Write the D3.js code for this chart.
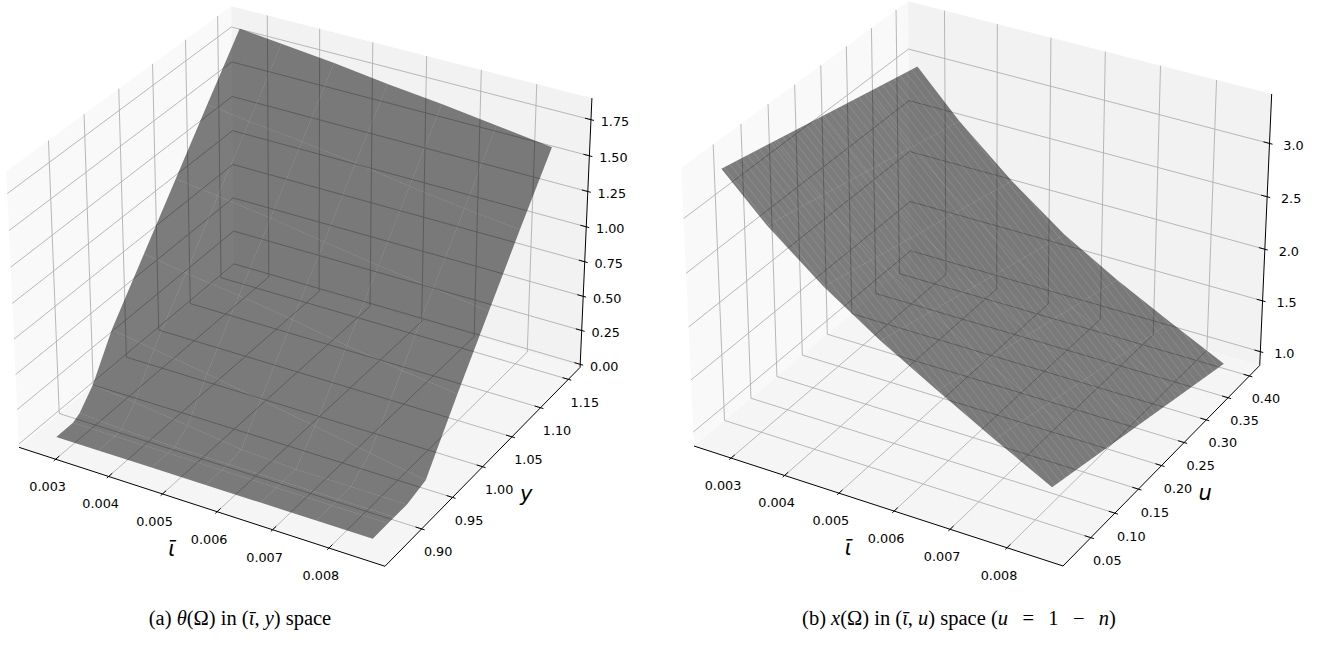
<!DOCTYPE html>
<html>
<head>
<meta charset="utf-8">
<script src="https://cdn.jsdelivr.net/npm/d3@7"></script>
<style>
body { margin: 0; background: #fff; }
svg text { font-family: "DejaVu Sans", sans-serif; fill: #000; }
.cap { font-family: "Liberation Serif", serif; }
</style>
</head>
<body>
<svg id="chart" width="1321" height="657"></svg>
<script>
// surface grid, shared iota axis
var iotaGrid = [0.0027, 0.0035, 0.0045, 0.0055, 0.0065, 0.0075, 0.0085];

// (a) theta over (iota, y), one row per value of yGridA
var yGridA = [0.866, 0.89, 0.90, 0.92, 0.95, 1.00, 1.05, 1.10, 1.152];
var thetaA = [
    [0.00, 0.00, 0.00, 0.00, 0.00, 0.00, 0.00],
    [0.00, 0.00, 0.00, 0.00, 0.00, 0.00, 0.00],
    [0.03, 0.01, 0.00, 0.00, 0.00, 0.00, 0.00],
    [0.15, 0.12, 0.07, 0.02, 0.00, 0.00, 0.00],
    [0.43, 0.38, 0.32, 0.25, 0.18, 0.11, 0.04],
    [0.78, 0.73, 0.68, 0.62, 0.55, 0.49, 0.44],
    [1.13, 1.09, 1.04, 0.98, 0.92, 0.87, 0.82],
    [1.48, 1.44, 1.40, 1.35, 1.29, 1.24, 1.20],
    [1.84, 1.81, 1.77, 1.72, 1.68, 1.63, 1.58]
];

// (b) x over (iota, u), one row per value of uGridB
var uGridB = [0.025, 0.12, 0.21, 0.30, 0.40];
var xOmegaB = [
    [3.386, 2.990, 2.580, 2.240, 1.940, 1.650, 1.373],
    [3.281, 2.879, 2.461, 2.111, 1.811, 1.527, 1.256],
    [3.181, 2.773, 2.348, 1.989, 1.689, 1.411, 1.144],
    [3.081, 2.667, 2.235, 1.866, 1.566, 1.294, 1.033],
    [2.970, 2.550, 2.110, 1.730, 1.430, 1.165, 0.909]
];

// ticks
var iotaTicks = [0.003, 0.004, 0.005, 0.006, 0.007, 0.008];
var iotaTickLabels = ["0.003", "0.004", "0.005", "0.006", "0.007", "0.008"];
var yTicksA = [0.90, 0.95, 1.00, 1.05, 1.10, 1.15];
var yTickLabelsA = ["0.90", "0.95", "1.00", "1.05", "1.10", "1.15"];
var thetaTicks = [0, 0.25, 0.5, 0.75, 1.0, 1.25, 1.5, 1.75];
var thetaTickLabels = ["0.00", "0.25", "0.50", "0.75", "1.00", "1.25", "1.50", "1.75"];
var uTicksB = [0.05, 0.10, 0.15, 0.20, 0.25, 0.30, 0.35, 0.40];
var uTickLabelsB = ["0.05", "0.10", "0.15", "0.20", "0.25", "0.30", "0.35", "0.40"];
var xTicksB = [1.0, 1.5, 2.0, 2.5, 3.0];
var xTickLabelsB = ["1.0", "1.5", "2.0", "2.5", "3.0"];

var svg = d3.select("#chart");

// faint seam texture seen on the right hand surface
svg.append("defs").append("pattern")
    .attr("id", "seams")
    .attr("patternUnits", "userSpaceOnUse")
    .attr("width", 40).attr("height", 6.5)
    .attr("patternTransform", "rotate(52)")
    .append("line")
    .attr("x1", 0).attr("y1", 0.5).attr("x2", 40).attr("y2", 0.5)
    .attr("stroke", "#fff").attr("stroke-opacity", 0.13).attr("stroke-width", 0.8);

// matplotlib default view: elev 30, azim -60, box aspect 4:4:3
var U = [Math.sqrt(3) / 2, 0.5, 0];
var V = [-0.25, Math.sqrt(3) / 4, Math.sqrt(3) / 2];
var W = [Math.sqrt(3) / 4, -0.75, 0.5];
var BOX = [8 / 7, 8 / 7, 6 / 7];

var dot = function (a, b) { return a[0] * b[0] + a[1] * b[1] + a[2] * b[2]; };

var panels = [
    {
        cx: 304.5, cy: 273.3, s: 3670,
        xlim: [0.0023, 0.00898], ylim: [0.8424, 1.1714], zlim: [-0.023, 1.898],
        yTicks: yTicksA, yLabels: yTickLabelsA, zTicks: thetaTicks, zLabels: thetaTickLabels,
        ys: yGridA, zs: thetaA, yName: "y", hatch: false
    },
    {
        cx: 981.9, cy: 270.6, s: 3700,
        xlim: [0.0023, 0.00897], ylim: [-0.0065, 0.4245], zlim: [0.863, 3.456],
        yTicks: uTicksB, yLabels: uTickLabelsB, zTicks: xTicksB, zLabels: xTickLabelsB,
        ys: uGridB, zs: xOmegaB, yName: "u", hatch: true
    }
];

var setup = function (p) {
    p.sx = d3.scaleLinear().domain(p.xlim).range([-BOX[0] / 2, BOX[0] / 2]);
    p.sy = d3.scaleLinear().domain(p.ylim).range([-BOX[1] / 2, BOX[1] / 2]);
    p.sz = d3.scaleLinear().domain(p.zlim).range([-BOX[2] / 2, BOX[2] / 2]);
    p.depth = function (x, y, z) {
        return 10 - dot(W, [p.sx(x), p.sy(y), p.sz(z)]);
    };
    p.proj = function (x, y, z) {
        var q = [p.sx(x), p.sy(y), p.sz(z)];
        var den = 10 - dot(W, q);
        return [p.cx + p.s * dot(U, q) / den, p.cy - p.s * dot(V, q) / den];
    };
};

var line = d3.line();

var drawPanel = function (p) {
    var g = svg.append("g");
    var pr = p.proj;
    var X0 = p.xlim[0], X1 = p.xlim[1], Y0 = p.ylim[0], Y1 = p.ylim[1], Z0 = p.zlim[0], Z1 = p.zlim[1];

    // panes
    var panes = [
        { c: "#f9f9f9", pts: [pr(X0, Y0, Z0), pr(X0, Y1, Z0), pr(X0, Y1, Z1), pr(X0, Y0, Z1)] },
        { c: "#f2f2f2", pts: [pr(X0, Y1, Z0), pr(X1, Y1, Z0), pr(X1, Y1, Z1), pr(X0, Y1, Z1)] },
        { c: "#f5f5f5", pts: [pr(X0, Y0, Z0), pr(X1, Y0, Z0), pr(X1, Y1, Z0), pr(X0, Y1, Z0)] }
    ];
    g.selectAll(".pane").data(panes).enter().append("path")
        .attr("class", "pane")
        .attr("d", function (d) { return line(d.pts) + "Z"; })
        .attr("fill", function (d) { return d.c; });

    // grid lines on the panes
    var grid = [];
    iotaTicks.forEach(function (t) { grid.push([pr(t, Y0, Z0), pr(t, Y1, Z0), pr(t, Y1, Z1)]); });
    p.yTicks.forEach(function (t) { grid.push([pr(X1, t, Z0), pr(X0, t, Z0), pr(X0, t, Z1)]); });
    p.zTicks.forEach(function (t) { grid.push([pr(X0, Y0, t), pr(X0, Y1, t), pr(X1, Y1, t)]); });
    g.selectAll(".grid").data(grid).enter().append("path")
        .attr("class", "grid")
        .attr("d", function (d) { return line(d); })
        .attr("fill", "none")
        .attr("stroke", "#b0b0b0")
        .attr("stroke-width", 0.9);

    // axis lines
    var axes = [
        [pr(X0, Y0, Z0), pr(X1, Y0, Z0)],
        [pr(X1, Y0, Z0), pr(X1, Y1, Z0)],
        [pr(X1, Y1, Z0), pr(X1, Y1, Z1)]
    ];
    g.selectAll(".axis").data(axes).enter().append("path")
        .attr("d", function (d) { return line(d); })
        .attr("stroke", "#000")
        .attr("stroke-width", 1);

    // tick marks
    var dx = (X1 - X0) / 12.5, dy = (Y1 - Y0) / 12.5;
    var ticks = [];
    iotaTicks.forEach(function (t) { ticks.push([pr(t, Y0 - 0.1 * dy, Z0), pr(t, Y0 + 0.2 * dy, Z0)]); });
    p.yTicks.forEach(function (t) { ticks.push([pr(X1 + 0.1 * dx, t, Z0), pr(X1 - 0.2 * dx, t, Z0)]); });
    p.zTicks.forEach(function (t) { ticks.push([pr(X1 + 0.1 * dx, Y1, t), pr(X1 - 0.2 * dx, Y1, t)]); });
    g.selectAll(".tick").data(ticks).enter().append("path")
        .attr("d", function (d) { return line(d); })
        .attr("stroke", "#000")
        .attr("stroke-width", 1);

    // tick labels
    var labels = [];
    iotaTicks.forEach(function (t, i) {
        var a = pr(t, Y0, Z0);
        labels.push({ x: a[0] - 8, y: a[1] + 27.5, s: iotaTickLabels[i] });
    });
    p.yTicks.forEach(function (t, i) {
        var a = pr(X1, t, Z0);
        labels.push({ x: a[0] + 16.5, y: a[1] + 23, s: p.yLabels[i] });
    });
    p.zTicks.forEach(function (t, i) {
        var a = pr(X1, Y1, t);
        labels.push({ x: a[0] + 24, y: a[1] + 2, s: p.zLabels[i] });
    });
    g.selectAll(".tl").data(labels).enter().append("text")
        .attr("x", function (d) { return d.x; })
        .attr("y", function (d) { return d.y; })
        .attr("text-anchor", "middle")
        .attr("dominant-baseline", "central")
        .attr("font-size", 12.8)
        .text(function (d) { return d.s; });

    // axis labels
    var mx = pr((X0 + X1) / 2, Y0, Z0), my = pr(X1, (Y0 + Y1) / 2, Z0);
    g.append("text").attr("x", mx[0] - 25.5).attr("y", mx[1] + 43.3)
        .attr("text-anchor", "middle").attr("dominant-baseline", "central")
        .attr("font-size", 21).attr("font-style", "italic").text("\u1FD1");
    g.append("text").attr("x", my[0] + 39.5).attr("y", my[1] + 31.7)
        .attr("text-anchor", "middle").attr("dominant-baseline", "central")
        .attr("font-size", 21).attr("font-style", "italic").text(p.yName);

    // surface: one quad per grid cell, painted far to near
    var quads = [];
    for (var j = 0; j < p.ys.length - 1; j++) {
        for (var i = 0; i < iotaGrid.length - 1; i++) {
            var c = [[i, j], [i + 1, j], [i + 1, j + 1], [i, j + 1]];
            var depth = 0;
            var pts = c.map(function (k) {
                depth += p.depth(iotaGrid[k[0]], p.ys[k[1]], p.zs[k[1]][k[0]]);
                return pr(iotaGrid[k[0]], p.ys[k[1]], p.zs[k[1]][k[0]]);
            });
            quads.push({ pts: pts, depth: depth });
        }
    }
    quads.sort(function (a, b) { return b.depth - a.depth; });
    g.selectAll(".quad").data(quads).enter().append("path")
        .attr("d", function (d) { return line(d.pts) + "Z"; })
        .attr("fill", "#000")
        .attr("fill-opacity", 0.5);
    if (p.hatch) {
        g.selectAll(".seam").data(quads).enter().append("path")
            .attr("d", function (d) { return line(d.pts) + "Z"; })
            .attr("fill", "url(#seams)");
    }
};

panels.forEach(function (p) { setup(p); drawPanel(p); });

// captions
var caps = [
    { x: 240, parts: [["(a) ", ""], ["\u03B8", "italic"], ["(\u03A9) in (", ""], ["\u1FD1", "italic"], [", ", ""], ["y", "italic"], [") space", ""]] },
    { x: 959, parts: [["(b) ", ""], ["x", "italic"], ["(\u03A9) in (", ""], ["\u1FD1", "italic"], [", ", ""], ["u", "italic"], [") space (", ""], ["u", "italic"], ["\u2002\u2009=\u2002\u20091\u2002\u2009\u2212\u2002\u2009", ""], ["n", "italic"], [")", ""]] }
];
caps.forEach(function (c) {
    var t = svg.append("text").attr("class", "cap").attr("x", c.x).attr("y", 625)
        .attr("text-anchor", "middle").attr("font-size", 20.5);
    c.parts.forEach(function (pt) {
        t.append("tspan").attr("font-style", pt[1] || null).text(pt[0]);
    });
});
</script>
</body>
</html>
